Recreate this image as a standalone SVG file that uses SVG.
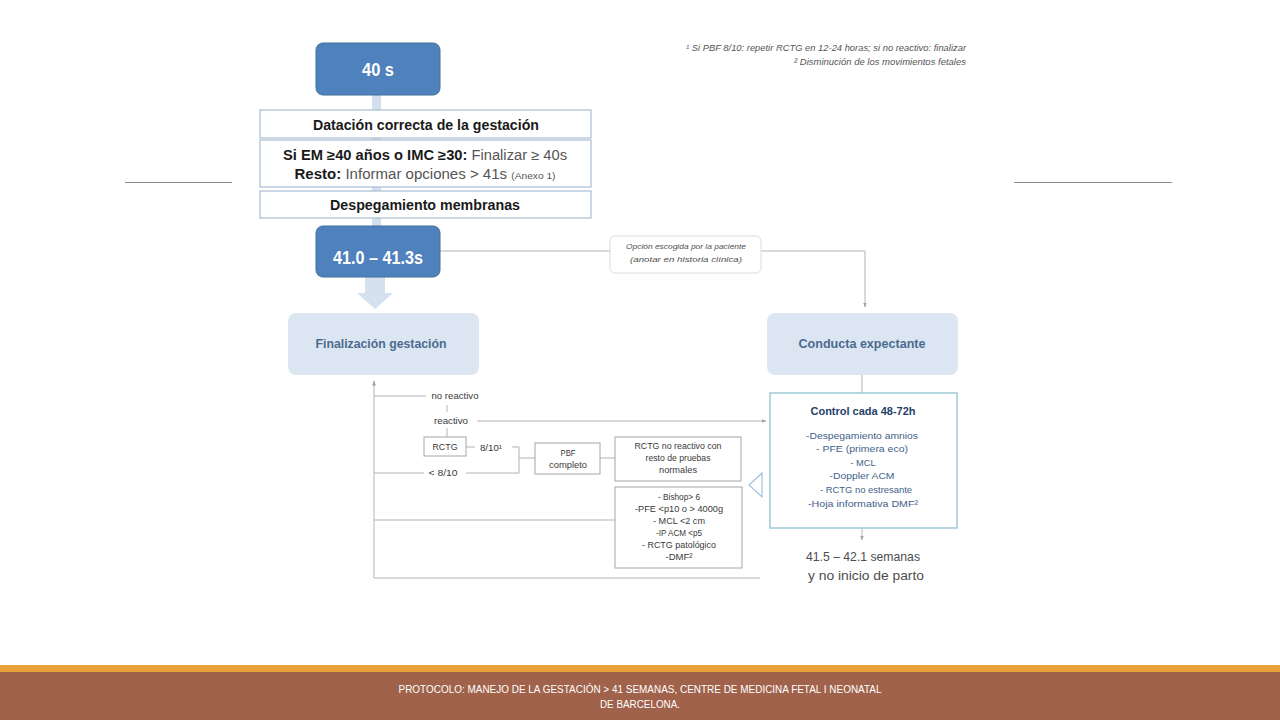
<svg xmlns="http://www.w3.org/2000/svg" width="1280" height="720" viewBox="0 0 1280 720">
<defs>
<marker id="ah" viewBox="0 0 10 10" refX="9" refY="5" markerWidth="5" markerHeight="5" orient="auto" markerUnits="userSpaceOnUse">
<path d="M0,1 L10,5 L0,9 z" fill="#a6a6a6"/>
</marker>
<style>
.t{font-family:"Liberation Sans",Arial,sans-serif}
.ln{fill:none;stroke:#b3b3b3;stroke-width:1}
.blue rect{fill:#4f81bd;stroke:#41719c;stroke-width:1}
.blue text{fill:#ffffff;font-weight:bold;font-size:18px;text-anchor:middle}
.wbox rect{fill:#ffffff;stroke:#a9bcd2;stroke-width:1.2}
.wbox text{fill:#1a1a1a;font-size:14px;text-anchor:middle}
.lbox rect{fill:#dce6f2;stroke:none}
.lbox text{fill:#4a6b8e;font-weight:bold;font-size:13px;text-anchor:middle}
.gbox rect{fill:#ffffff;stroke:#a6a6a6;stroke-width:1}
.gbox text{fill:#3a3a3a;font-size:9px;text-anchor:middle}
.sm{fill:#3a3a3a;font-size:9px;text-anchor:middle}
.ctl{fill:#3f6189;font-size:9.5px;text-anchor:middle}
</style>
</defs>
<rect width="1280" height="720" fill="#ffffff"/>
<g id="rules">
<line x1="125" y1="182.5" x2="232" y2="182.5" stroke="#8c8c8c" stroke-width="1"/>
<line x1="1014" y1="182.5" x2="1172" y2="182.5" stroke="#8c8c8c" stroke-width="1"/>
</g>
<g id="footnotes" class="t" font-style="italic" font-size="9" fill="#555555" text-anchor="end">
<text x="966" y="51" textLength="280" lengthAdjust="spacingAndGlyphs">¹ Si PBF 8/10: repetir RCTG en 12-24 horas; si no reactivo: finalizar</text>
<text x="966" y="65" textLength="172" lengthAdjust="spacingAndGlyphs">² Disminución de los movimientos fetales</text>
</g>
<g id="connectors">
<rect x="372" y="95" width="9" height="132" fill="#d3dfed"/>
<path d="M365,277 H385 V293 H393 L375,309 L357,293 H365 Z" fill="#d5e1ef"/>
<path class="ln" d="M440,251 H610"/>
<path class="ln" d="M761,251 H865 V307" marker-end="url(#ah)"/>
<path class="ln" d="M862,375 V393"/>
<path class="ln" d="M862,528 V540" marker-end="url(#ah)"/>
<path class="ln" d="M760,578 H374 V381" marker-end="url(#ah)"/>
<path class="ln" d="M374,396 H426"/>
<path class="ln" d="M447,405 V412"/>
<path class="ln" d="M477,421 H766" marker-end="url(#ah)"/>
<path class="ln" d="M447,428 V437"/>
<path class="ln" d="M466,447 H475"/>
<path class="ln" d="M512,447 H519 V473"/>
<path class="ln" d="M374,473 H424"/>
<path class="ln" d="M466,473 H519"/>
<path class="ln" d="M519,458 H535"/>
<path class="ln" d="M600,458 H615"/>
<path class="ln" d="M374,520 H615"/>
<path d="M762,473 L749,485 L762,497 Z" fill="#ffffff" stroke="#9fc1de" stroke-width="1.2"/>
</g>
<g id="n40s" class="blue t">
<rect x="316" y="43" width="124" height="52" rx="7"/>
<text x="378" y="76" textLength="32" lengthAdjust="spacingAndGlyphs">40 s</text>
</g>
<g id="datacion" class="wbox t">
<rect x="260" y="110" width="331" height="28"/>
<text x="426" y="130" font-weight="bold" textLength="226" lengthAdjust="spacingAndGlyphs">Datación correcta de la gestación</text>
</g>
<g id="criterios" class="wbox t">
<rect x="260" y="140" width="331" height="47"/>
<text x="425" y="160" textLength="284" lengthAdjust="spacingAndGlyphs"><tspan font-weight="bold">Si EM ≥40 años  o IMC ≥30:</tspan><tspan fill="#555555"> Finalizar ≥ 40s</tspan></text>
<text x="425" y="179" textLength="261" lengthAdjust="spacingAndGlyphs"><tspan font-weight="bold">Resto:</tspan><tspan fill="#555555"> Informar opciones &gt; 41s </tspan><tspan font-size="9.5" fill="#555555">(Anexo 1)</tspan></text>
</g>
<g id="despegamiento" class="wbox t">
<rect x="260" y="191" width="331" height="27"/>
<text x="425" y="210" font-weight="bold" textLength="190" lengthAdjust="spacingAndGlyphs">Despegamiento membranas</text>
</g>
<g id="n41" class="blue t">
<rect x="316" y="226" width="124" height="51" rx="7"/>
<text x="378" y="264" textLength="90" lengthAdjust="spacingAndGlyphs">41.0 – 41.3s</text>
</g>
<g id="opcion" class="t">
<rect x="610" y="236" width="151" height="37" rx="5" fill="#ffffff" stroke="#dcdcdc" stroke-width="1"/>
<text x="686" y="249" font-size="8" font-style="italic" fill="#505050" text-anchor="middle" textLength="120" lengthAdjust="spacingAndGlyphs">Opción escogida por la paciente</text>
<text x="686" y="262" font-size="8" font-style="italic" fill="#505050" text-anchor="middle" textLength="112" lengthAdjust="spacingAndGlyphs">(anotar en historia clínica)</text>
</g>
<g id="finalizacion" class="lbox t">
<rect x="288" y="313" width="191" height="62" rx="8"/>
<text x="381" y="348" textLength="131" lengthAdjust="spacingAndGlyphs">Finalización gestación</text>
</g>
<g id="expectante" class="lbox t">
<rect x="767" y="313" width="191" height="62" rx="8"/>
<text x="862" y="348" textLength="127" lengthAdjust="spacingAndGlyphs">Conducta expectante</text>
</g>
<g id="control" class="t">
<rect x="770" y="393" width="187" height="135" fill="#ffffff" stroke="#9ccbd4" stroke-width="1.5"/>
<text x="863" y="415" font-size="10" font-weight="bold" fill="#1f3f6a" text-anchor="middle" textLength="105" lengthAdjust="spacingAndGlyphs">Control cada 48-72h</text>
<text class="ctl" x="862" y="439" textLength="112" lengthAdjust="spacingAndGlyphs">-Despegamiento amnios</text>
<text class="ctl" x="862" y="452" textLength="92" lengthAdjust="spacingAndGlyphs">- PFE (primera eco)</text>
<text class="ctl" x="863" y="466" textLength="25" lengthAdjust="spacingAndGlyphs">- MCL</text>
<text class="ctl" x="862" y="479" textLength="65" lengthAdjust="spacingAndGlyphs">-Doppler ACM</text>
<text class="ctl" x="866" y="493" textLength="92" lengthAdjust="spacingAndGlyphs">- RCTG no estresante</text>
<text class="ctl" x="863" y="507" textLength="110" lengthAdjust="spacingAndGlyphs">-Hoja informativa DMF²</text>
</g>
<g id="semanas" class="t" font-size="13" fill="#4d4d4d" text-anchor="middle">
<text x="863" y="561" textLength="114" lengthAdjust="spacingAndGlyphs">41.5 – 42.1 semanas</text>
<text x="866" y="580" textLength="116" lengthAdjust="spacingAndGlyphs">y no inicio de parto</text>
</g>
<g id="labels" class="t">
<text class="sm" x="455" y="399" textLength="47" lengthAdjust="spacingAndGlyphs">no reactivo</text>
<text class="sm" x="451" y="424" textLength="34" lengthAdjust="spacingAndGlyphs">reactivo</text>
<text class="sm" x="491" y="451" textLength="22" lengthAdjust="spacingAndGlyphs">8/10¹</text>
<text class="sm" x="443" y="476" textLength="29" lengthAdjust="spacingAndGlyphs">&lt; 8/10</text>
</g>
<g id="rctg" class="gbox t">
<rect x="424" y="437" width="42" height="19"/>
<text x="445" y="450" textLength="25" lengthAdjust="spacingAndGlyphs">RCTG</text>
</g>
<g id="pbf" class="gbox t">
<rect x="535" y="443" width="65" height="31"/>
<text x="568" y="456" textLength="15" lengthAdjust="spacingAndGlyphs">PBF</text>
<text x="568" y="468" textLength="38" lengthAdjust="spacingAndGlyphs">completo</text>
</g>
<g id="rctgnr" class="gbox t">
<rect x="615" y="437" width="126" height="44"/>
<text x="678" y="449" textLength="87" lengthAdjust="spacingAndGlyphs">RCTG no reactivo con</text>
<text x="678" y="461" textLength="65" lengthAdjust="spacingAndGlyphs">resto de pruebas</text>
<text x="678" y="473" textLength="38" lengthAdjust="spacingAndGlyphs">normales</text>
</g>
<g id="criteriosfin" class="gbox t">
<rect x="615" y="487" width="127" height="81"/>
<text x="679" y="500" textLength="42" lengthAdjust="spacingAndGlyphs">- Bishop&gt; 6</text>
<text x="679" y="512" textLength="88" lengthAdjust="spacingAndGlyphs">-PFE &lt;p10 o  &gt; 4000g</text>
<text x="679" y="524" textLength="52" lengthAdjust="spacingAndGlyphs">- MCL &lt;2 cm</text>
<text x="679" y="536" textLength="46" lengthAdjust="spacingAndGlyphs">-IP ACM &lt;p5</text>
<text x="679" y="548" textLength="74" lengthAdjust="spacingAndGlyphs">- RCTG patológico</text>
<text x="679" y="560" textLength="27" lengthAdjust="spacingAndGlyphs">-DMF²</text>
</g>
<g id="footer" class="t">
<rect x="0" y="665" width="1280" height="7" fill="#e8a33a"/>
<rect x="0" y="672" width="1280" height="48" fill="#a0624a"/>
<text x="640" y="693" font-size="10" fill="#ffffff" text-anchor="middle" textLength="483" lengthAdjust="spacingAndGlyphs">PROTOCOLO: MANEJO DE LA GESTACIÓN &gt; 41 SEMANAS, CENTRE DE MEDICINA FETAL I NEONATAL</text>
<text x="640" y="708" font-size="10" fill="#ffffff" text-anchor="middle" textLength="80" lengthAdjust="spacingAndGlyphs">DE BARCELONA.</text>
</g>
</svg>
